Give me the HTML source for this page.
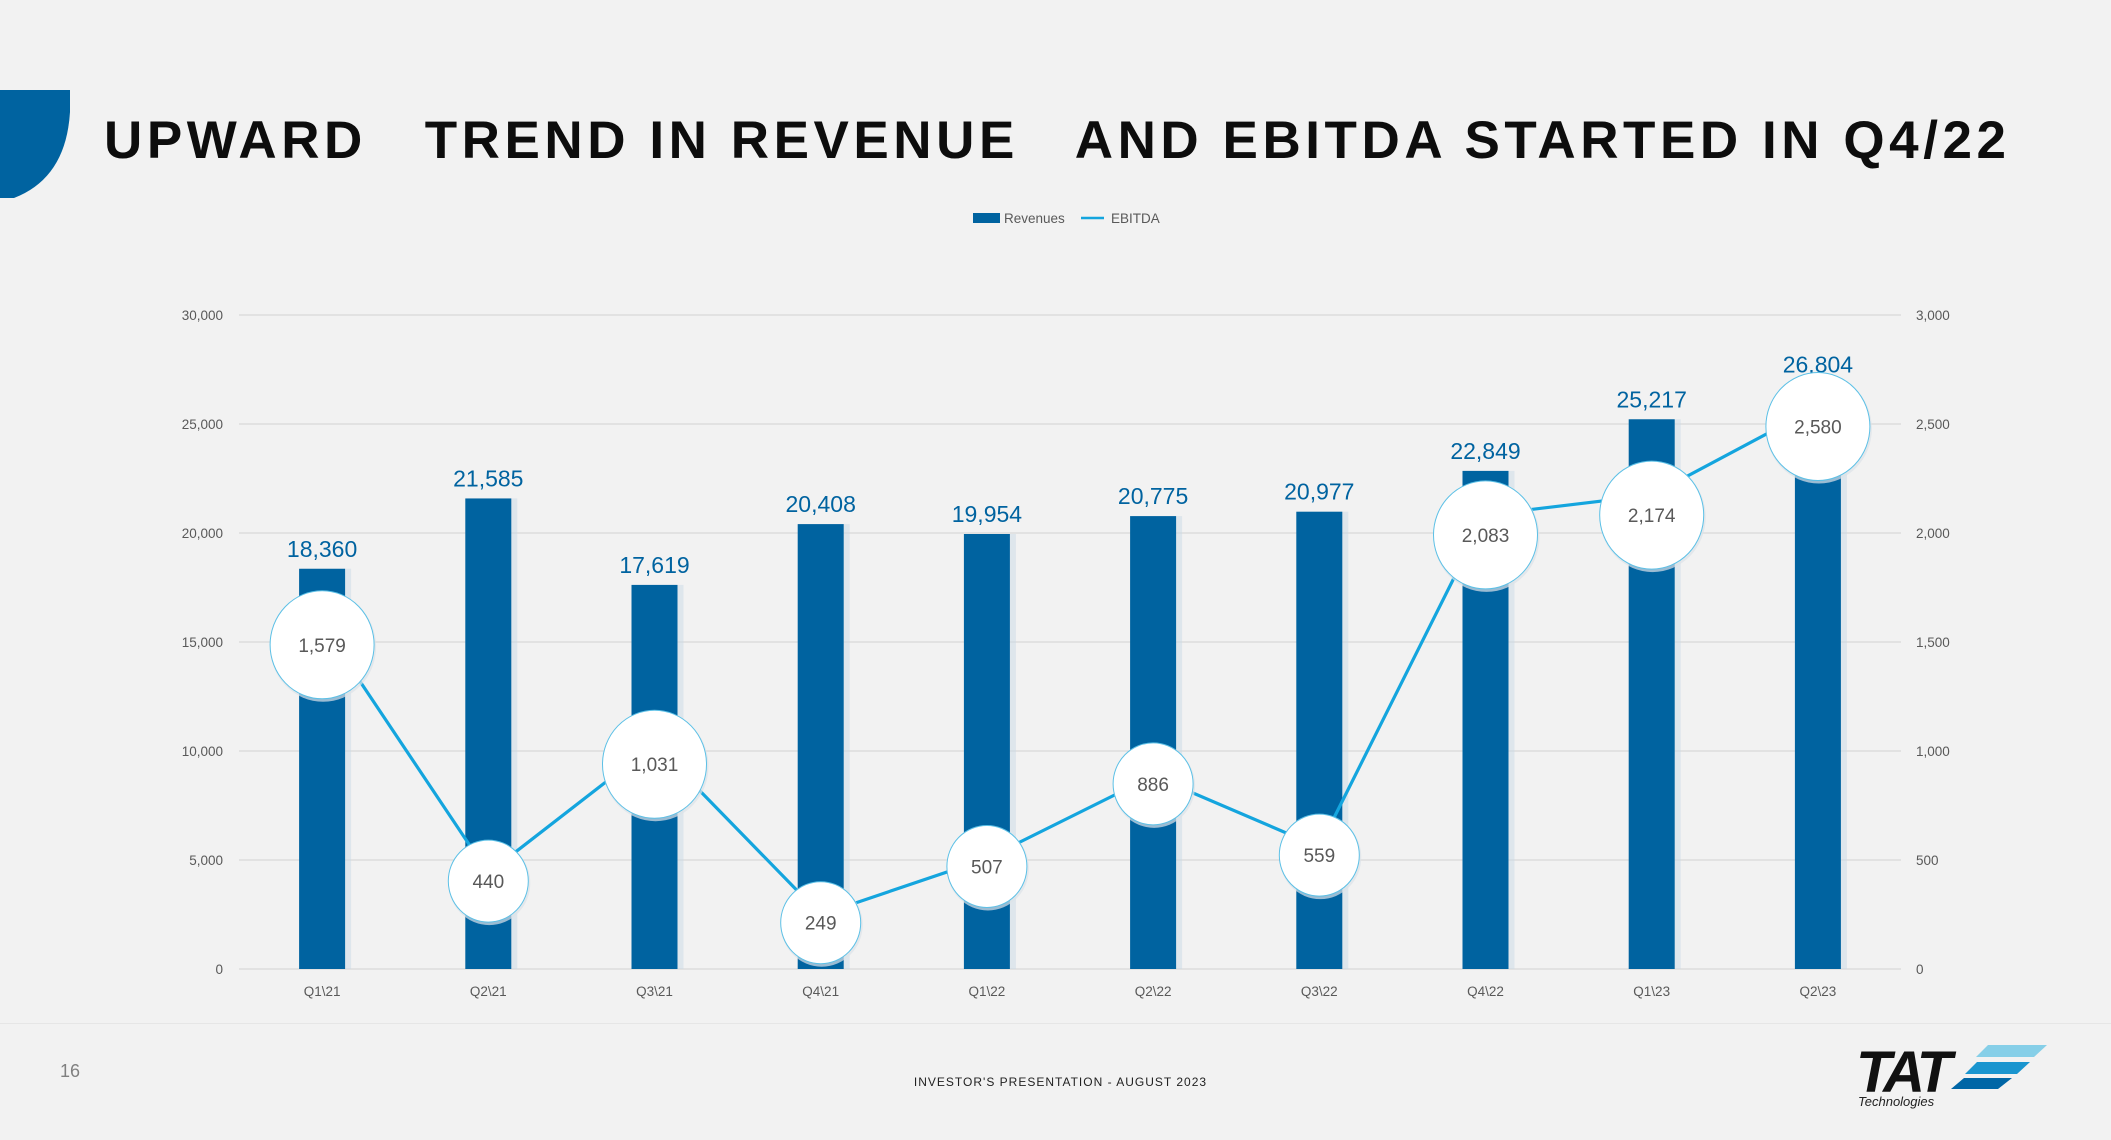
<!DOCTYPE html>
<html><head><meta charset="utf-8"><style>
html,body{margin:0;padding:0;background:#f2f2f2;}
body{width:2111px;height:1140px;position:relative;overflow:hidden;font-family:"Liberation Sans",sans-serif;}
</style></head><body>
<svg width="80" height="210" style="position:absolute;left:0;top:0">
<path d="M0,90 H70 V112 Q66 178 14 198 L0 198 Z" fill="#0063a0"/></svg>
<svg width="2111" height="200" style="position:absolute;left:0;top:0">
<text x="104" y="158" font-family="Liberation Sans" font-weight="bold" font-size="53" fill="#0d0d0d" textLength="1902" lengthAdjust="spacing" style="white-space:pre">UPWARD   TREND IN REVENUE   AND EBITDA STARTED IN Q4/22</text>
</svg>
<svg id="chart" width="2111" height="1140" style="position:absolute;left:0;top:0"></svg>
<div style="position:absolute;left:0;top:1023px;width:2111px;height:1px;background:#e6e6e6"></div>
<div style="position:absolute;left:60px;top:1061px;font-size:18px;color:#808080">16</div>
<div style="position:absolute;left:0;width:2111px;text-align:center;top:1075px;font-size:12px;letter-spacing:1px;color:#222;padding-left:10px;box-sizing:border-box">INVESTOR'S PRESENTATION - AUGUST 2023</div>
<svg width="260" height="80" style="position:absolute;left:1850px;top:1040px">
<text x="6" y="52" font-family="Liberation Sans" font-weight="bold" font-style="italic" font-size="58" fill="#111" letter-spacing="-4">TAT</text>
<polygon points="138,5 197,5 184,17 126,17" fill="#86cfe8"/>
<polygon points="127,22 180,22 167,34 115,34" fill="#1a95cf"/>
<polygon points="114,38 162,38 148,49 101,49" fill="#0066a6"/>
<text x="8" y="66" font-family="Liberation Sans" font-style="italic" font-size="13" fill="#222">Technologies</text>
</svg>
<script>
const categories=["Q1\\21","Q2\\21","Q3\\21","Q4\\21","Q1\\22","Q2\\22","Q3\\22","Q4\\22","Q1\\23","Q2\\23"];
const revenues=[18360,21585,17619,20408,19954,20775,20977,22849,25217,26804];
const ebitda=[1579,440,1031,249,507,886,559,2083,2174,2580];
const leftTicks=[0,5000,10000,15000,20000,25000,30000];
const rightTicks=[0,500,1000,1500,2000,2500,3000];
const NS="http://www.w3.org/2000/svg";
const svg=document.getElementById('chart');
const X0=239,X1=1901,Y0=969,Y1=315;
const step=(X1-X0)/categories.length;
const xc=i=>X0+step*(i+0.5);
const yL=v=>Y0-(v/30000)*(Y0-Y1);
const yR=v=>Y0-(v/3000)*(Y0-Y1);
function el(t,a,txt){const e=document.createElementNS(NS,t);for(const k in a)e.setAttribute(k,a[k]);if(txt!==undefined)e.textContent=txt;svg.appendChild(e);return e;}
const fmt=v=>v.toLocaleString('en-US');
leftTicks.forEach((v,i)=>{
 let g=el('line',{x1:X0,x2:X1,y1:yL(v),y2:yL(v),stroke:'#d9d9d9','stroke-width':1.3});
 
 
 let t=el('text',{x:223,y:yL(v)+5,'text-anchor':'end','font-size':13.5,fill:'#595959'},fmt(v));
 
 
});
rightTicks.forEach(v=>{
 let t=el('text',{x:1916,y:yR(v)+5,'font-size':13.5,fill:'#595959'},fmt(v));
 
 
});
categories.forEach((c,i)=>{
 let t=el('text',{x:xc(i),y:996,'text-anchor':'middle','font-size':13.5,fill:'#595959'},c);
 
 
});
revenues.forEach((v,i)=>{
 let s=el('rect',{x:xc(i)-21,y:yL(v),width:50,height:Y0-yL(v),fill:'#c9d9e6',opacity:0.5});
 
 
 let b=el('rect',{x:xc(i)-23,y:yL(v),width:46,height:Y0-yL(v),fill:'#0063a0'});
 
 
 let t=el('text',{x:xc(i),y:yL(v)-12,'text-anchor':'middle','font-size':23,fill:'#0063a0'},fmt(v));
 
 
});
const pts=ebitda.map((v,i)=>xc(i)+','+yR(v)).join(' ');
const pl=el('polyline',{points:pts,fill:'none',stroke:'#14a5de','stroke-width':3.2});


ebitda.forEach((v,i)=>{
 const big=v>=1000;
 const rx=big?52:40, ry=big?54:41;
 const cy=yR(v)+(big?20:8);
 let sh=el('ellipse',{cx:xc(i)+1,cy:cy+2,rx:rx+1,ry:ry+1,fill:'#dde3e8',opacity:0.7});
 
 
 let c=el('ellipse',{cx:xc(i),cy:cy,rx:rx,ry:ry,fill:'#fff',stroke:'#5cc0e6','stroke-width':1});
 
 
 let t=el('text',{x:xc(i),y:cy+7,'text-anchor':'middle','font-size':19,fill:'#595959'},fmt(v));
 
 
});
let lr=el('rect',{x:973,y:213,width:27,height:10,fill:'#0063a0'});


let lt=el('text',{x:1004,y:223,'font-size':13.5,fill:'#595959'},'Revenues');


let ll=el('line',{x1:1081,x2:1104,y1:218,y2:218,stroke:'#14a5de','stroke-width':2.5});


let le=el('text',{x:1111,y:223,'font-size':13.5,fill:'#595959'},'EBITDA');


</script>
</body></html>
